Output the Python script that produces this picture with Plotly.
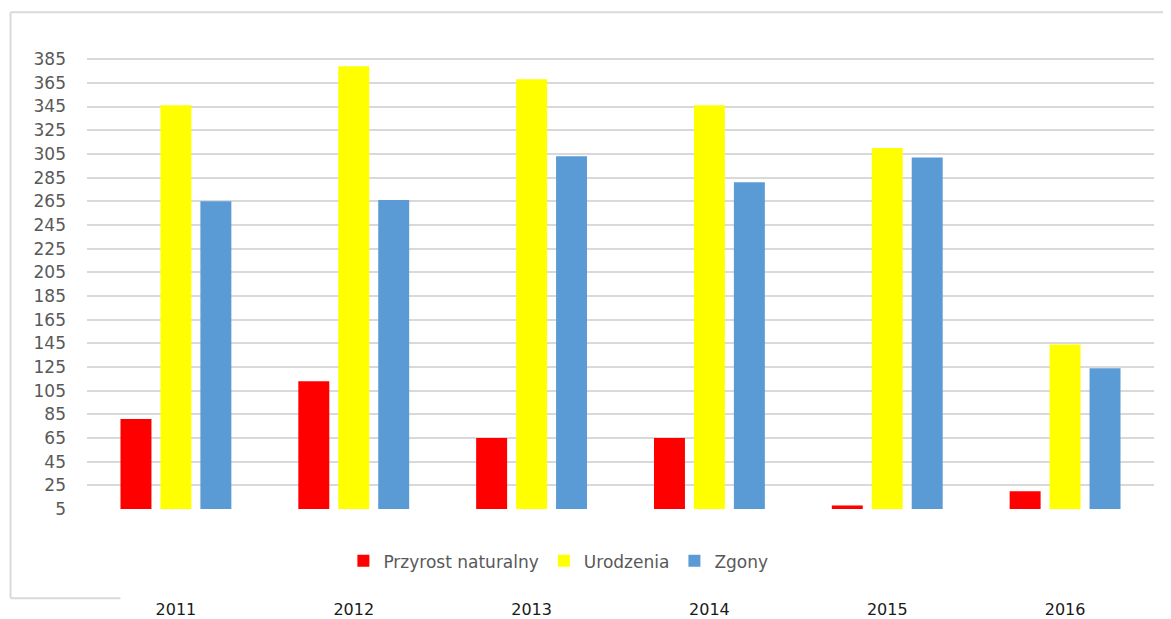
import plotly.graph_objects as go

years = ["2011", "2012", "2013", "2014", "2015", "2016"]
przyrost = [81, 113, 65, 65, 8, 20]
urodzenia = [346, 379, 368, 346, 310, 144]
zgony = [265, 266, 303, 281, 302, 124]
series_names = ["Przyrost naturalny", "Urodzenia", "Zgony"]
colors = ["#FF0000", "#FFFF00", "#5B9BD5"]
ytick_vals = list(range(5, 386, 20))

OFF = 8  # page body margin
W, H = 1171 - OFF, 619 - OFF
# plot area in screen pixels
SL, SR, ST, SB = 86.5, 1154.0, 57.8, 508.7
L, R, TOP, BOT = SL - OFF, SR - OFF, ST - OFF, SB - OFF

fig = go.Figure()
for name, vals, c in zip(series_names, [przyrost, urodzenia, zgony], colors):
    fig.add_trace(go.Bar(x=years, y=vals, name=name, marker=dict(color=c, line=dict(width=0))))

def px_x(p):
    return (p - SL) / (SR - SL)

def px_y(p):
    return (SB - p) / (SB - ST)

border = dict(color="#D9D9D9", width=2)
shapes = [
    dict(type="line", xref="paper", yref="paper", x0=px_x(10), x1=px_x(10), y0=px_y(12), y1=px_y(598), line=border),
    dict(type="line", xref="paper", yref="paper", x0=px_x(10), x1=px_x(1180), y0=px_y(12), y1=px_y(12), line=border),
    dict(type="line", xref="paper", yref="paper", x0=px_x(10), x1=px_x(120), y0=px_y(598), y1=px_y(598), line=border),
]

fig.update_layout(
    width=W, height=H,
    margin=dict(l=L, r=W - R, t=TOP, b=H - BOT, pad=0, autoexpand=False),
    paper_bgcolor="white", plot_bgcolor="white",
    barmode="group", bargap=0.326, bargroupgap=0.225,
    font=dict(family="DejaVu Sans", color="#595959"),
    showlegend=True,
    legend=dict(orientation="h", x=px_x(343), xanchor="left", y=px_y(561), yanchor="middle",
                font=dict(family="DejaVu Sans", size=17, color="#595959"),
                itemclick=False, tracegroupgap=0, bgcolor="rgba(0,0,0,0)"),
    shapes=shapes,
)
fig.update_xaxes(showgrid=False, showline=False, zeroline=False, ticks="",
                 tickfont=dict(family="DejaVu Sans", size=16, color="#1A1A1A"),
                 ticklabelstandoff=89, automargin=False)
fig.update_yaxes(range=[5, 386], tickvals=ytick_vals, showgrid=True, gridcolor="#D9D9D9", gridwidth=2,
                 zeroline=False, showline=False, ticks="",
                 tickfont=dict(family="DejaVu Sans", size=17, color="#595959"),
                 ticklabelstandoff=20, automargin=False)

fig.write_html("out.html")
